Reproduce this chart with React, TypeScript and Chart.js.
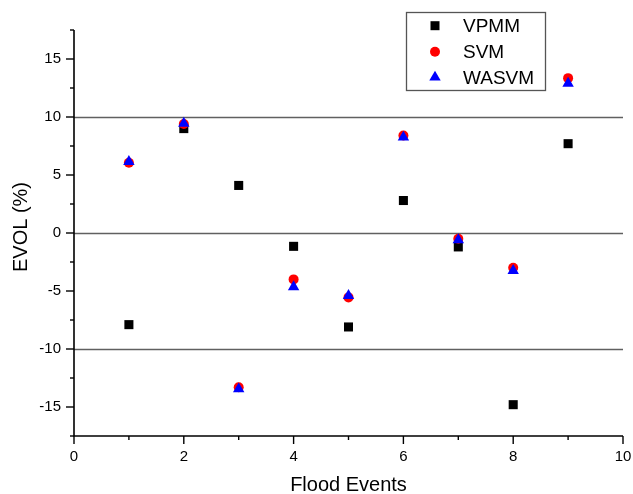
import React, { useEffect, useRef } from 'react';
import { Chart, registerables } from 'chart.js';

Chart.register(...registerables);

const floodEvents = [1, 2, 3, 4, 5, 6, 7, 8, 9];
const vpmmValues = [-7.9, 9.0, 4.1, -1.15, -8.1, 2.8, -1.2, -14.8, 7.7];
const svmValues = [6.05, 9.4, -13.3, -4.0, -5.55, 8.4, -0.5, -3.0, 13.35];
const wasvmValues = [6.15, 9.45, -13.45, -4.65, -5.4, 8.25, -0.6, -3.25, 12.9];

const xMajorTicks = [0, 2, 4, 6, 8, 10];
const xMinorTicks = [1, 3, 5, 7, 9];
const yMajorTicks = [-15, -10, -5, 0, 5, 10, 15];
const yMinorTicks = [-17.5, -12.5, -7.5, -2.5, 2.5, 7.5, 12.5, 17.5];
const referenceLines = [-10, 0, 10];

const seriesNames = ['VPMM', 'SVM', 'WASVM'];
const seriesColors = ['#000000', '#ff0000', '#0000ff'];
const yTitle = 'EVOL (%)';
const xTitle = 'Flood Events';

const FONT = '"Liberation Sans", Arial, sans-serif';

function drawMarker(ctx: CanvasRenderingContext2D, kind: number, x: number, y: number) {
  ctx.save();
  ctx.fillStyle = seriesColors[kind];
  ctx.beginPath();
  if (kind === 0) {
    ctx.rect(x - 4.5, y - 4.5, 9, 9);
  } else if (kind === 1) {
    ctx.arc(x, y, 5, 0, Math.PI * 2);
  } else {
    const r = 6.6;
    ctx.moveTo(x, y - r);
    ctx.lineTo(x + r * Math.sin((2 * Math.PI) / 3), y - r * Math.cos((2 * Math.PI) / 3));
    ctx.lineTo(x + r * Math.sin((4 * Math.PI) / 3), y - r * Math.cos((4 * Math.PI) / 3));
    ctx.closePath();
  }
  ctx.fill();
  ctx.restore();
}

const framePlugin = {
  id: 'frame',
  beforeDatasetsDraw(chart: any) {
    const { ctx, chartArea, scales } = chart;
    const ys = scales.y;
    ctx.save();
    ctx.strokeStyle = '#606060';
    ctx.lineWidth = 1.4;
    referenceLines.forEach((v) => {
      const py = Math.round(ys.getPixelForValue(v)) + 0.5;
      ctx.beginPath();
      ctx.moveTo(chartArea.left, py);
      ctx.lineTo(chartArea.right, py);
      ctx.stroke();
    });
    ctx.restore();
  },
  afterDraw(chart: any) {
    const { ctx, chartArea, scales } = chart;
    const xs = scales.x;
    const ys = scales.y;
    const left = chartArea.left;
    const bottom = chartArea.bottom;
    ctx.save();
    ctx.strokeStyle = '#000';
    ctx.lineWidth = 1.6;
    ctx.beginPath();
    ctx.moveTo(left, chartArea.top);
    ctx.lineTo(left, bottom);
    ctx.lineTo(chartArea.right, bottom);
    ctx.stroke();
    ctx.lineWidth = 1.4;
    const tick = (x1: number, y1: number, x2: number, y2: number) => {
      ctx.beginPath();
      ctx.moveTo(x1, y1);
      ctx.lineTo(x2, y2);
      ctx.stroke();
    };
    yMajorTicks.forEach((v) => {
      const p = ys.getPixelForValue(v);
      tick(left, p, left - 8, p);
    });
    yMinorTicks.forEach((v) => {
      const p = ys.getPixelForValue(v);
      tick(left, p, left - 4, p);
    });
    xMajorTicks.forEach((v) => {
      const p = xs.getPixelForValue(v);
      tick(p, bottom, p, bottom + 8);
    });
    xMinorTicks.forEach((v) => {
      const p = xs.getPixelForValue(v);
      tick(p, bottom, p, bottom + 4);
    });

    // y axis title
    ctx.save();
    ctx.translate(21, 227);
    ctx.rotate(-Math.PI / 2);
    ctx.font = `20px ${FONT}`;
    ctx.fillStyle = '#000';
    ctx.textAlign = 'center';
    ctx.textBaseline = 'middle';
    ctx.fillText(yTitle, 0, 0);
    ctx.restore();

    // legend
    const bx = 406, by = 12, bw = 139, bh = 78;
    ctx.strokeStyle = '#555';
    ctx.lineWidth = 1.3;
    ctx.strokeRect(bx + 0.5, by + 0.5, bw, bh);
    const rowsY = [25.7, 51.7, 77.3];
    ctx.font = `19px ${FONT}`;
    ctx.textBaseline = 'middle';
    ctx.textAlign = 'left';
    seriesNames.forEach((name, i) => {
      drawMarker(ctx, i, 435, rowsY[i]);
      ctx.fillStyle = '#000';
      ctx.fillText(name, 463, rowsY[i] + 1);
    });
    ctx.restore();
  },
};

export default function App() {
  const canvasRef = useRef<HTMLCanvasElement | null>(null);

  useEffect(() => {
    if (!canvasRef.current) return;
    const toPoints = (vals: number[]) => floodEvents.map((x, i) => ({ x, y: vals[i] }));
    const chart = new Chart(canvasRef.current, {
      type: 'scatter',
      data: {
        datasets: [
          {
            label: seriesNames[2],
            data: toPoints(wasvmValues),
            pointStyle: 'triangle',
            pointRadius: 6.6,
            backgroundColor: seriesColors[2],
            borderColor: seriesColors[2],
            borderWidth: 0,
            order: 0,
          },
          {
            label: seriesNames[1],
            data: toPoints(svmValues),
            pointStyle: 'circle',
            pointRadius: 5,
            backgroundColor: seriesColors[1],
            borderColor: seriesColors[1],
            borderWidth: 0,
            order: 1,
          },
          {
            label: seriesNames[0],
            data: toPoints(vpmmValues),
            pointStyle: 'rect',
            pointRadius: 6.4,
            backgroundColor: seriesColors[0],
            borderColor: seriesColors[0],
            borderWidth: 0,
            order: 2,
          },
        ],
      },
      options: {
        animation: false,
        responsive: true,
        maintainAspectRatio: false,
        layout: { padding: { top: 30, right: 10, left: 0, bottom: 0 } },
        plugins: {
          legend: { display: false },
          tooltip: { enabled: false },
        },
        scales: {
          x: {
            type: 'linear',
            min: 0,
            max: 10,
            afterBuildTicks: (scale: any) => {
              scale.ticks = xMajorTicks.map((v) => ({ value: v }));
            },
            afterFit: (scale: any) => {
              scale.height = 58;
              scale.paddingLeft = 0;
              scale.paddingRight = 0;
            },
            grid: { display: false, drawTicks: false },
            border: { display: false },
            ticks: {
              padding: 12,
              color: '#000',
              font: { family: FONT, size: 15 },
              maxRotation: 0,
            },
            title: {
              display: true,
              text: xTitle,
              color: '#000',
              font: { family: FONT, size: 20 },
              padding: { top: 0, bottom: -3 },
            },
          },
          y: {
            type: 'linear',
            min: -17.5,
            max: 17.5,
            afterBuildTicks: (scale: any) => {
              scale.ticks = yMajorTicks.map((v) => ({ value: v }));
            },
            afterFit: (scale: any) => {
              scale.width = 74;
              scale.paddingTop = 0;
              scale.paddingBottom = 0;
            },
            grid: { display: false, drawTicks: false },
            border: { display: false },
            ticks: {
              padding: 13,
              color: '#000',
              font: { family: FONT, size: 15 },
            },
          },
        },
      },
      plugins: [framePlugin],
    });
    return () => chart.destroy();
  }, []);

  return (
    <div style={{ position: 'fixed', left: 0, top: 0, width: 633, height: 494, background: '#fff' }}>
      <canvas ref={canvasRef} />
    </div>
  );
}
